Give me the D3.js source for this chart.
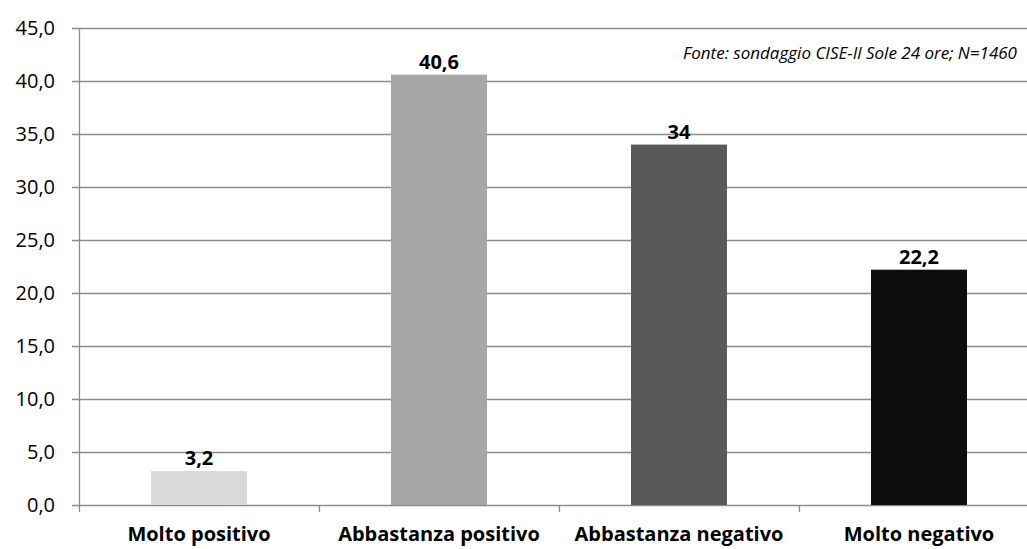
<!DOCTYPE html>
<html>
<head>
<meta charset="utf-8">
<script src="https://cdn.jsdelivr.net/npm/d3@7"></script>
<style>
  body { margin: 0; background: #fff; }
  svg text { font-family: "Open Sans", sans-serif; }
</style>
</head>
<body>
<script>
const width = 1027, height = 549;

const categories = ['Molto positivo', 'Abbastanza positivo', 'Abbastanza negativo', 'Molto negativo'];
const values = [3.2, 40.6, 34, 22.2];
const barColors = ['#d9d9d9', '#a6a6a6', '#595959', '#0d0d0d'];
const yTicks = [0, 5, 10, 15, 20, 25, 30, 35, 40, 45];
const source = 'Fonte: sondaggio CISE-Il Sole 24 ore; N=1460';

const margin = { left: 79, top: 28, bottom: 505 };

const svg = d3.select('body').append('svg')
    .attr('width', width)
    .attr('height', height);

const x = d3.scaleBand()
    .domain(categories)
    .range([margin.left, margin.left + 960])
    .paddingInner(0.6)
    .paddingOuter(0.3);

const y = d3.scaleLinear()
    .domain([0, 45])
    .range([margin.bottom, margin.top]);

const fmt = v => String(v).replace('.', ',');

// gridlines
svg.append('g').selectAll('line')
    .data(yTicks)
    .enter().append('line')
    .attr('x1', margin.left - 7)
    .attr('x2', width)
    .attr('y1', d => Math.round(y(d)) + 0.5)
    .attr('y2', d => Math.round(y(d)) + 0.5)
    .style('stroke', '#8c8c8c')
    .style('stroke-width', 1.3);

// y labels
svg.append('g').selectAll('text')
    .data(yTicks)
    .enter().append('text')
    .attr('x', 55)
    .attr('y', d => y(d) + 7)
    .attr('text-anchor', 'end')
    .style('font-size', '20px')
    .style('fill', '#000')
    .text(d => d.toFixed(1).replace('.', ','));

// bars
svg.append('g').selectAll('rect')
    .data(values)
    .enter().append('rect')
    .attr('x', (d, i) => x(categories[i]))
    .attr('width', x.bandwidth())
    .attr('y', d => y(d))
    .attr('height', d => y(0) - y(d))
    .style('fill', (d, i) => barColors[i]);

// y axis line
svg.append('line')
    .attr('x1', margin.left + 0.5).attr('x2', margin.left + 0.5)
    .attr('y1', y(45)).attr('y2', y(0) + 7)
    .style('stroke', '#8c8c8c')
    .style('stroke-width', 1.3);

// category ticks
svg.append('g').selectAll('line')
    .data(d3.range(1, 4))
    .enter().append('line')
    .attr('x1', d => margin.left + d * x.step() + 0.5)
    .attr('x2', d => margin.left + d * x.step() + 0.5)
    .attr('y1', y(0))
    .attr('y2', y(0) + 7)
    .style('stroke', '#8c8c8c')
    .style('stroke-width', 1.3);

// category labels
svg.append('g').selectAll('text')
    .data(categories)
    .enter().append('text')
    .attr('x', d => x(d) + x.bandwidth() / 2)
    .attr('y', 541)
    .attr('text-anchor', 'middle')
    .style('font-size', '20px')
    .style('font-weight', 'bold')
    .text(d => d);

// value labels
svg.append('g').selectAll('text')
    .data(values)
    .enter().append('text')
    .attr('x', (d, i) => x(categories[i]) + x.bandwidth() / 2)
    .attr('y', d => y(d) - 6)
    .attr('text-anchor', 'middle')
    .style('font-size', '20px')
    .style('font-weight', 'bold')
    .text(d => fmt(d));

// source note
svg.append('text')
    .attr('x', 1017)
    .attr('y', 59)
    .attr('text-anchor', 'end')
    .style('font-size', '17px')
    .style('font-style', 'italic')
    .text(source);
</script>
</body>
</html>
